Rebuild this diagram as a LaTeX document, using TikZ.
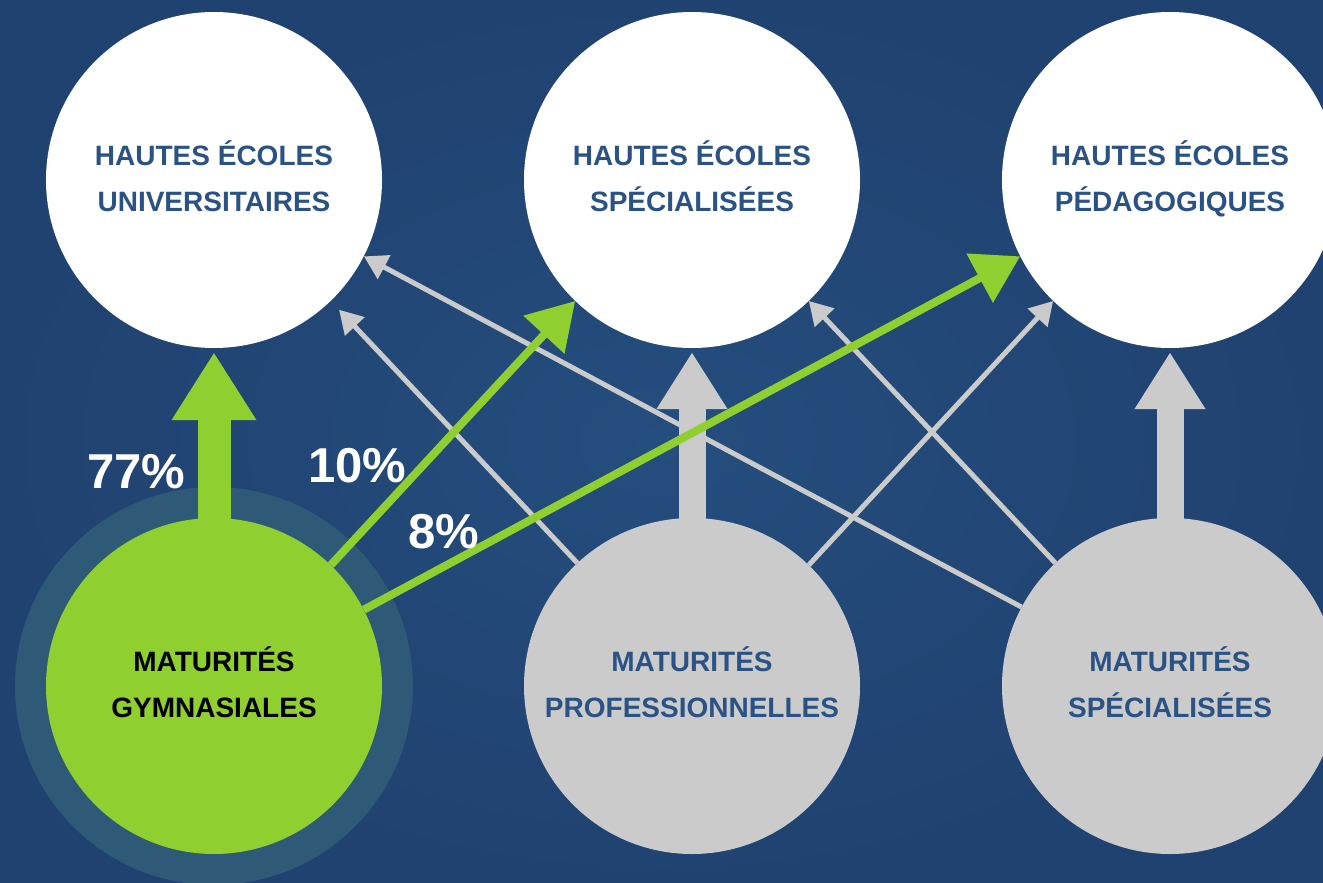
\documentclass[tikz,border=0pt]{standalone}
\usepackage{fontspec}
\setmainfont{Liberation Sans}
\usetikzlibrary{arrows.meta}

\definecolor{bgblue}{HTML}{244E7E}
\definecolor{bgdark}{HTML}{20416F}
\definecolor{textblue}{HTML}{2A5285}
\definecolor{limegreen}{HTML}{8FCF2F}
\definecolor{lightgray}{HTML}{CBCBCB}
\definecolor{halo}{HTML}{2E5A77}

\tikzset{
  school/.style={circle, inner sep=0pt, minimum size=336pt, align=center,
    text height=62pt, text depth=0pt,
    font=\bfseries\fontsize{28}{46}\selectfont},
  target/.style={school, fill=white, text=textblue},
  sourcegray/.style={school, fill=lightgray, text=textblue},
  sourcegreen/.style={school, fill=limegreen, text=black},
  flowgreen/.style={draw=limegreen, line width=33pt,
    -{Triangle[length=68pt,width=80pt]}, shorten >=4pt, shorten <=-4pt},
  flowgray/.style={draw=lightgray, line width=27pt,
    -{Triangle[length=57pt,width=67pt]}, shorten >=4pt, shorten <=-4pt},
  thingreen/.style={draw=limegreen, line width=8pt,
    -{Triangle[length=46pt,width=54pt]}},
  thingray/.style={draw=lightgray, line width=5pt,
    -{Triangle[length=23pt,width=26pt]}},
  pct/.style={text=white, anchor=base, font=\bfseries\fontsize{49}{60}\selectfont}
}

\begin{document}
\begin{tikzpicture}[x=1pt,y=-1pt]
  % backdrop
  \useasboundingbox (0,0) rectangle (1323,883);
  \fill[bgblue] (0,0) rectangle (1323,883);
  \shade[inner color=bgblue, outer color=bgdark, opacity=0.9]
    (0,0) rectangle (1323,883);

  % glow behind the gymnasial circle
  \fill[halo] (214,686) circle[radius=199];

  % higher education institutions
  \node[target] (hu) at (214,180) {HAUTES ÉCOLES\\UNIVERSITAIRES};
  \node[target] (hs) at (692,180) {HAUTES ÉCOLES\\SPÉCIALISÉES};
  \node[target] (hp) at (1170,180) {HAUTES ÉCOLES\\PÉDAGOGIQUES};

  % maturity certificates
  \node[sourcegreen] (mg) at (214,686) {MATURITÉS\\GYMNASIALES};
  \node[sourcegray] (mp) at (692,686) {MATURITÉS\\PROFESSIONNELLES};
  \node[sourcegray] (ms) at (1170,686) {MATURITÉS\\SPÉCIALISÉES};

  % main pathways
  \draw[flowgray] (mp.north) -- (hs.south);
  \draw[flowgray] (ms.north) -- (hp.south);

  % cross pathways
  \draw[thingray, shorten >=12pt] (mp.133.4) -- (hu.-46.6);
  \draw[thingray] (mp.46.6) -- (hp.226.6);
  \draw[thingray] (ms.133.4) -- (hs.-46.6);
  \draw[thingray] (ms.152.1) -- (hu.-27.9);

  % gymnasial pathways
  \draw[flowgreen] (mg.north) -- (hu.south);
  \draw[thingreen] (mg.46.6) -- (hs.226.6);
  \draw[thingreen] (mg.27.9) -- (hp.207.9);

  % shares
  \node[pct] (p77) at (136.5,488) {77\%};
  \node[pct] (p10) at (357.5,482) {10\%};
  \node[pct] (p8) at (444,548) {8\%};
\end{tikzpicture}
\end{document}
